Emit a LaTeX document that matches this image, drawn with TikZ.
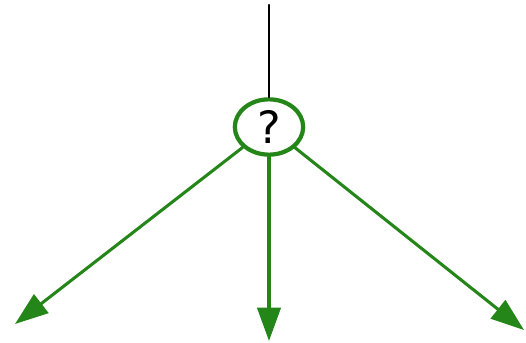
\documentclass[tikz,border=0pt]{standalone}
\usepackage{fontspec}
\setsansfont{DejaVu Sans}
\usetikzlibrary{arrows.meta,shapes.geometric}
\definecolor{leafgreen}{RGB}{36,134,24}
\begin{document}
\begin{tikzpicture}[x=0.03cm,y=-0.03cm,line join=round,line cap=round,
		>={Triangle[length=1cm,width=0.7cm]},
		choice/.style={draw=leafgreen,line width=3.6pt,fill=white,ellipse,inner sep=0pt,
			minimum width=2.05cm,minimum height=1.66cm,font=\fontsize{38}{42}\selectfont\sffamily},
		branch/.style={->,draw=leafgreen,fill=leafgreen,line width=2.6pt}]
	\useasboundingbox (0,0) rectangle (526,343);
	\coordinate (top) at (269,5);
	\coordinate (leftend) at (15,324);
	\coordinate (midend) at (269,341);
	\coordinate (rightend) at (524,330);
	\node[choice] (q) at (269,127) {?};
	\draw[line width=2pt] (top)--(q);
	\draw[branch] (q)--(leftend);
	\draw[branch] (q)--(midend);
	\draw[branch] (q)--(rightend);
\end{tikzpicture}
\end{document}
